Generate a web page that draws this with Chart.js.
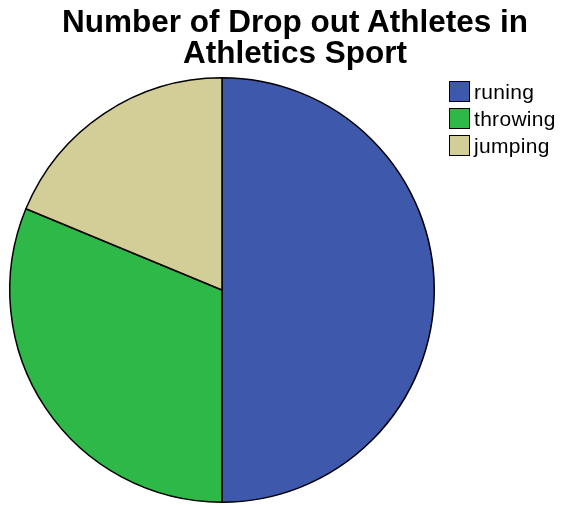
<!DOCTYPE html>
<html>
<head>
<meta charset="utf-8">
<script src="https://cdn.jsdelivr.net/npm/chart.js@4.4.1/dist/chart.umd.min.js"></script>
<style>
    body { margin: 0; background: #fff; font-family: "Liberation Sans", Arial, sans-serif; }
    #wrap { position: relative; width: 563px; height: 505px; overflow: hidden; }
    #title {
        position: absolute; left: 0; top: 6px; width: 590px;
        text-align: center; font-weight: bold; font-size: 31.5px; line-height: 31px; color: #000;
        white-space: nowrap;
    }
    #legend { position: absolute; left: 449px; top: 78px; font-size: 21px; letter-spacing: 0.3px; color: #000; white-space: nowrap; }
    .row { display: flex; align-items: center; height: 27px; }
    .sw { width: 19px; height: 19px; border: 1.5px solid #000; margin-right: 4px; box-sizing: content-box; }
</style>
</head>
<body>
<div id="wrap">
    <canvas id="pie" width="563" height="505"></canvas>
    <div id="title">Number of Drop out Athletes in<br>Athletics Sport</div>
    <div id="legend"></div>
</div>
<script>
const sportLabels = ['runing', 'throwing', 'jumping'];
const dropOuts = [8, 5, 3];
const sliceColors = ['#3E58AC', '#2EB848', '#D3CE97'];

// legend built from the same labels/colours
let legend = document.getElementById('legend');
for (let i = 0; i < sportLabels.length; i++) {
    let row = document.createElement('div');
    row.className = 'row';
    row.innerHTML = '<div class="sw" style="background:' + sliceColors[i] + '"></div>' + sportLabels[i];
    legend.appendChild(row);
}

const data = {
    labels: sportLabels,
    datasets: [{
            data: dropOuts,
            backgroundColor: sliceColors,
            borderColor: '#000',
            borderWidth: 1.5
        }]
};
const config = {
    type: 'pie',
    data: data,
    options: {
        responsive: false,
        animation: false,
        layout: { padding: { left: 9, right: 128, top: 77, bottom: 2 } },
        plugins: {
            legend: { display: false },
            tooltip: { enabled: false }
        }
    }
};

let ctx = document.getElementById('pie').getContext('2d');
new Chart(ctx, config);
</script>
</body>
</html>
